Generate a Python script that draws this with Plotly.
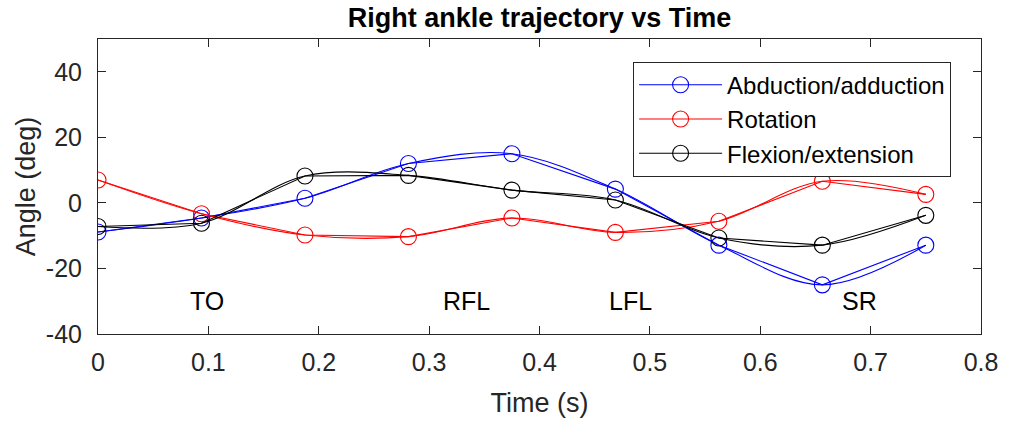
import plotly.graph_objects as go

# Sample times (s) and joint angles (deg)
time_s = [0, 0.09375, 0.1875, 0.28125, 0.375, 0.46875, 0.5625, 0.65625, 0.75]
abduction = [-8.9, -4.6, 1.4, 12.0, 15.0, 4.2, -12.9, -25.0, -12.9]
rotation = [7.0, -3.3, -9.8, -10.3, -4.6, -9.0, -5.6, 6.6, 2.6]
flexion = [-7.2, -6.2, 8.2, 8.4, 3.9, 0.9, -10.7, -12.9, -3.8]

series_names = ["Abduction/adduction", "Rotation", "Flexion/extension"]
series_values = [abduction, rotation, flexion]
series_colors = ["#0000ff", "#ff0000", "#000000"]

# Gait event labels
event_labels = ["TO", "RFL", "LFL", "SR"]
event_times = [0.099, 0.334, 0.482, 0.69]
event_angle = -30

x_ticks = [0, 0.1, 0.2, 0.3, 0.4, 0.5, 0.6, 0.7, 0.8]
y_ticks = [-40, -20, 0, 20, 40]

FONT = "Liberation Sans, Arial, Helvetica, sans-serif"
AXIS_COLOR = "#262626"

fig = go.Figure()
for name, vals, col in zip(series_names, series_values, series_colors):
    # straight segments joining the samples, with markers
    fig.add_trace(go.Scatter(
        x=time_s, y=vals, name=name, mode="lines+markers",
        line=dict(color=col, width=1.1),
        marker=dict(symbol="circle-open", size=16, color=col, line=dict(width=1.1)),
    ))
    # smoothed trajectory through the same samples
    fig.add_trace(go.Scatter(
        x=time_s, y=vals, mode="lines", showlegend=False, hoverinfo="skip",
        line=dict(color=col, width=1.1, shape="spline", smoothing=1.0),
    ))

for lab, t in zip(event_labels, event_times):
    fig.add_annotation(x=t, y=event_angle, text=lab, showarrow=False,
                       font=dict(size=25, color="#000000", family=FONT),
                       xanchor="center", yanchor="middle")

axis_common = dict(
    showline=True, linecolor=AXIS_COLOR, linewidth=1, mirror="ticks",
    ticks="inside", ticklen=8, tickcolor=AXIS_COLOR, tickwidth=1,
    showgrid=False, zeroline=False,
    tickfont=dict(size=25, color=AXIS_COLOR, family=FONT),
)

fig.update_layout(
    width=1010, height=425,
    margin=dict(l=98, r=20, t=39, b=89),
    paper_bgcolor="white", plot_bgcolor="white",
    title=dict(text="<b>Right ankle trajectory vs Time</b>", x=0.5, xref="paper",
               xanchor="center", y=0.958, yanchor="middle",
               font=dict(size=27, color="#000000", family=FONT)),
    xaxis=dict(range=[0, 0.8], tickvals=x_ticks, ticktext=[f"{v:g}" for v in x_ticks],
               ticklabelstandoff=6,
               title=dict(text="Time (s)", font=dict(size=27, color=AXIS_COLOR, family=FONT),
                          standoff=18),
               **axis_common),
    yaxis=dict(range=[-40, 50], tickvals=y_ticks, ticktext=[str(v) for v in y_ticks],
               ticklabelstandoff=10,
               title=dict(text="Angle (deg)", font=dict(size=27, color=AXIS_COLOR, family=FONT),
                          standoff=2),
               **axis_common),
    legend=dict(x=0.606, y=0.923, xanchor="left", yanchor="top",
                bgcolor="white", bordercolor=AXIS_COLOR, borderwidth=1,
                font=dict(size=24, color="#000000", family=FONT),
                tracegroupgap=0, itemwidth=83),
    showlegend=True,
)

fig.write_html("out.html")
